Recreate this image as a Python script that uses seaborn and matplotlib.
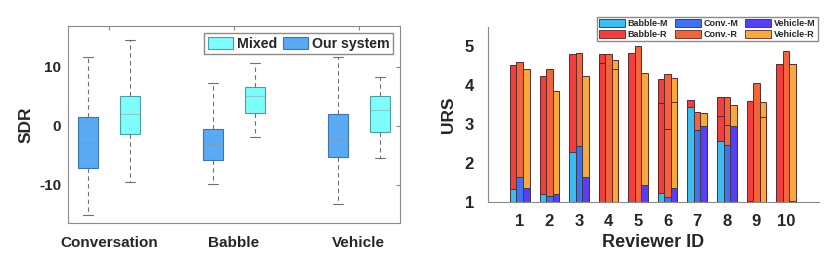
import numpy as np
import pandas as pd
import matplotlib
matplotlib.use("Agg")
import matplotlib.pyplot as plt
import seaborn as sns
from matplotlib.patches import Patch

sns.set_style("white")
plt.rcParams['font.family'] = ['Liberation Sans', 'DejaVu Sans']
plt.rcParams['font.weight'] = 'bold'
plt.rcParams['axes.unicode_minus'] = False

# ---- left panel: SDR box plots (five-number summaries: min, q1, median, q3, max)
noise_types = ['Conversation', 'Babble', 'Vehicle']
ours_conv = [-15.1, -7.1, -3.0, 1.4, 11.6]
ours_babble = [-9.9, -5.9, -3.1, -0.5, 7.2]
ours_vehicle = [-13.2, -5.3, -2.5, 2.0, 11.6]
mixed_conv = [-9.5, -1.4, 1.9, 5.0, 14.5]
mixed_babble = [-2.0, 2.1, 5.1, 6.5, 10.6]
mixed_vehicle = [-5.5, -1.0, 2.7, 5.0, 8.3]

# ---- right panel: URS per reviewer
reviewers = ['1', '2', '3', '4', '5', '6', '7', '8', '9', '10']
babble_r = [4.52, 4.25, 4.80, 4.80, 4.82, 4.17, 3.61, 3.69, 3.59, 4.55]
conv_r = [4.60, 4.42, 4.84, 4.80, 5.00, 4.28, 3.31, 3.69, 4.05, 4.88]
vehicle_r = [4.42, 3.86, 4.25, 4.66, 4.32, 4.19, 3.29, 3.50, 3.57, 4.55]
babble_m = [1.33, 1.20, 2.28, 1.00, 1.00, 1.24, 3.43, 2.56, 1.02, 1.00]
conv_m = [1.63, 1.15, 2.44, 1.00, 1.00, 1.12, 2.86, 2.47, 1.00, 1.00]
vehicle_m = [1.35, 1.21, 1.65, 1.00, 1.44, 1.35, 2.96, 2.94, 1.00, 1.02]
# earlier ratings visible as dark lines inside the R bars
babble_prev = [np.nan, np.nan, np.nan, 4.58, np.nan, 3.55, np.nan, 3.21, np.nan, np.nan]
conv_prev = [np.nan, np.nan, np.nan, np.nan, np.nan, 2.88, np.nan, 2.99, np.nan, np.nan]
vehicle_prev = [np.nan, np.nan, np.nan, 4.42, np.nan, 3.58, np.nan, np.nan, 3.19, np.nan]

methods = ['Our system', 'Mixed']
box_colors = {'Our system': '#5aaaf6', 'Mixed': '#7ffcfc'}
bar_noise = ['Babble', 'Conv.', 'Vehicle']
m_colors = ['#3dbcf0', '#3e72ef', '#5a3ef3']
r_colors = ['#f33e3e', '#f1653d', '#f5a93f']

rows = []
for cat, o, m in zip(noise_types, [ours_conv, ours_babble, ours_vehicle],
                     [mixed_conv, mixed_babble, mixed_vehicle]):
    rows += [(cat, 'Our system', v) for v in o]
    rows += [(cat, 'Mixed', v) for v in m]
sdr = pd.DataFrame(rows, columns=['noise', 'method', 'sdr'])


def long_table(lists):
    out = []
    for name, vals in zip(bar_noise, lists):
        out += [(r, name, v) for r, v in zip(reviewers, vals)]
    return pd.DataFrame(out, columns=['reviewer', 'noise', 'urs'])


df_r = long_table([babble_r, conv_r, vehicle_r])
df_m = long_table([babble_m, conv_m, vehicle_m])
df_p = long_table([babble_prev, conv_prev, vehicle_prev])

fig = plt.figure(figsize=(8.31, 2.54), dpi=100)
ax1 = fig.add_axes([0.0818, 0.122, 0.3995, 0.7756])
ax2 = fig.add_axes([0.587, 0.205, 0.398, 0.689])

# left: box plot
sns.boxplot(data=sdr, x='noise', y='sdr', hue='method', order=noise_types,
            hue_order=methods, palette=box_colors, saturation=1, whis=(0, 100),
            width=0.68, gap=0.53, linewidth=0.8, linecolor='#606060',
            whiskerprops={'linestyle': (0, (4, 3)), 'color': '#707070'},
            capprops={'color': '#707070'},
            medianprops={'color': '#909090', 'alpha': 0.45, 'linewidth': 0.8},
            legend=False, ax=ax1)
for p, col in zip(ax1.patches, ['#3f72b0'] * 3 + ['#4aa0a0'] * 3):
    p.set_edgecolor(col)
ax1.set_xlim(-0.33, 2.33)
ax1.set_ylim(-16.5, 16.9)
ax1.set_yticks([-10, 0, 10])
ax1.set_xlabel('')
ax1.set_ylabel('SDR', fontsize=12.5, fontweight='bold', labelpad=4)
ax1.tick_params(direction='in', length=3, color='#888888', top=True, right=True,
                labelsize=11, pad=5)
ax1.tick_params(axis='x', pad=9)
for s in ax1.spines.values():
    s.set_color('#8a8a8a')
    s.set_linewidth(0.8)
h1 = [Patch(facecolor=box_colors['Mixed'], edgecolor='#4aa0a0', lw=0.8),
      Patch(facecolor=box_colors['Our system'], edgecolor='#3f72b0', lw=0.8)]
leg1 = ax1.legend(h1, ['Mixed', 'Our system'], ncol=2, loc='upper right',
                  bbox_to_anchor=(0.979, 0.964), borderaxespad=0,
                  prop={'size': 10.2, 'weight': 'bold'}, handlelength=1.8,
                  handleheight=1.0, handletextpad=0.25, columnspacing=0.4,
                  borderpad=0.25, fancybox=False, framealpha=1)
leg1.get_frame().set_edgecolor('#8a8a8a')

# right: overlaid bar groups
bar_kw = dict(x='reviewer', y='urs', hue='noise', order=reviewers,
              hue_order=bar_noise, width=0.66, gap=0, errorbar=None,
              saturation=1, legend=False, ax=ax2, linewidth=0.7)
sns.barplot(data=df_r, palette=r_colors, edgecolor='#5a2a2a', **bar_kw)
sns.barplot(data=df_p, palette=r_colors, edgecolor='#6a2020', **bar_kw)
sns.barplot(data=df_m, palette=m_colors, edgecolor='#3a3a4a', **bar_kw)
ax2.set_xlim(-1.08, 10.1)
ax2.set_ylim(1, 5.5)
ax2.set_yticks([1, 2, 3, 4, 5])
ax2.set_xlabel('Reviewer ID', fontsize=13, fontweight='bold', labelpad=3)
ax2.set_ylabel('URS', fontsize=12.5, fontweight='bold', labelpad=6)
ax2.tick_params(length=0, labelsize=12, pad=9)
ax2.tick_params(axis='y', pad=10)
for side in ['top', 'right']:
    ax2.spines[side].set_visible(False)
for side in ['left', 'bottom']:
    ax2.spines[side].set_color('#8a8a8a')
    ax2.spines[side].set_linewidth(0.8)

h2, l2 = [], []
for name, mc, rc in zip(bar_noise, m_colors, r_colors):
    h2 += [Patch(facecolor=mc, edgecolor='#333333', lw=0.6),
           Patch(facecolor=rc, edgecolor='#5a2a2a', lw=0.6)]
    l2 += [f'{name}-M', f'{name}-R']
leg2 = ax2.legend(h2, l2, ncol=3, loc='upper right',
                  bbox_to_anchor=(0.997, 1.057), borderaxespad=0,
                  prop={'size': 6.5, 'weight': 'bold'}, handlelength=2.9,
                  handleheight=0.9, handletextpad=0.3, columnspacing=0.7,
                  labelspacing=0.2, borderpad=0.25, fancybox=False,
                  framealpha=1)
leg2.get_frame().set_edgecolor('#8a8a8a')

fig.savefig('out.png', dpi=100)
